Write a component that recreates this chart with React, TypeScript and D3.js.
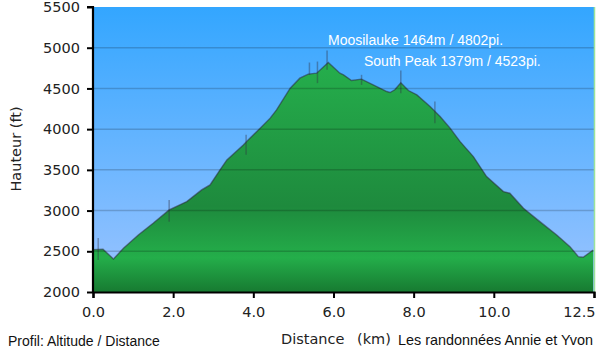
import React, { useRef, useEffect } from "react";
import * as d3 from "d3";

// profile: distance (km) / altitude (ft)
const distKm: number[] = [0.0, 0.25, 0.51, 0.76, 1.13, 1.5, 1.9, 2.34, 2.71, 2.92, 3.17, 3.34, 3.75, 3.87, 4.17, 4.42, 4.58, 4.92, 5.16, 5.37, 5.58, 5.87, 6.16, 6.25, 6.45, 6.7, 6.99, 7.33, 7.41, 7.53, 7.68, 7.87, 8.08, 8.41, 8.66, 8.91, 9.16, 9.49, 9.82, 10.24, 10.4, 10.74, 11.15, 11.57, 11.9, 12.11, 12.23, 12.48];
const altFt: number[] = [2520, 2525, 2405, 2537, 2700, 2844, 3008, 3110, 3254, 3315, 3500, 3622, 3806, 3868, 4012, 4135, 4237, 4503, 4626, 4675, 4687, 4818, 4687, 4667, 4597, 4614, 4544, 4462, 4450, 4483, 4570, 4474, 4421, 4278, 4155, 4012, 3847, 3663, 3417, 3233, 3213, 3029, 2864, 2700, 2557, 2434, 2426, 2516];

// GPS spikes: km, top ft, bottom ft
const spikeKm: number[] = [0.13, 1.9, 3.82, 5.4, 5.6, 5.84, 6.7, 7.68, 8.53];
const spikeTop: number[] = [2664, 3130, 3930, 4818, 4830, 4966, 4667, 4720, 4339];
const spikeBottom: number[] = [2393, 2864, 3684, 4667, 4565, 4728, 4544, 4442, 4073];

const yTicks: number[] = [2000, 2500, 3000, 3500, 4000, 4500, 5000, 5500];
const xTicks: number[] = [0, 2, 4, 6, 8, 10, 12.5];

const peaks = [
  { label: "Moosilauke 1464m / 4802pi.", x: 328, y: 45 },
  { label: "South Peak 1379m / 4523pi.", x: 364, y: 66 },
];

const App = () => {
  const canvas = useRef<SVGSVGElement>(null);

  const left = 93, right = 594, top = 7, bottom = 292;

  useEffect(() => {
    const svg = d3.select(canvas.current);
    svg.selectAll("*").remove();

    const xScale = d3.scaleLinear().domain([0, 12.5]).range([left, right]);
    const yScale = d3.scaleLinear().domain([2000, 5500]).range([bottom, top]);

    const defs = svg.append("defs");
    const sky = defs.append("linearGradient").attr("id", "sky")
      .attr("gradientUnits", "userSpaceOnUse")
      .attr("x1", 0).attr("x2", 0).attr("y1", top).attr("y2", bottom);
    sky.append("stop").attr("offset", "0%").attr("stop-color", "#33a6ff");
    sky.append("stop").attr("offset", "100%").attr("stop-color", "#9cc4ff");

    const grass = defs.append("linearGradient").attr("id", "grass")
      .attr("gradientUnits", "userSpaceOnUse")
      .attr("x1", 0).attr("x2", 0).attr("y1", top).attr("y2", bottom);
    grass.append("stop").attr("offset", "0.2").attr("stop-color", "#25ae4c");
    grass.append("stop").attr("offset", "0.7").attr("stop-color", "#1e8a3d");
    grass.append("stop").attr("offset", "0.88").attr("stop-color", "#24ae4a");
    grass.append("stop").attr("offset", "1").attr("stop-color", "#177a31");

    svg.append("rect")
      .attr("x", left).attr("y", top)
      .attr("width", right - left).attr("height", bottom - top)
      .attr("fill", "url(#sky)");

    const pts: [number, number][] = distKm.map((d, i) => [d, altFt[i]]);

    const area = d3.area<[number, number]>()
      .x(d => xScale(d[0]))
      .y0(bottom)
      .y1(d => yScale(d[1]));
    const line = d3.line<[number, number]>()
      .x(d => xScale(d[0]))
      .y(d => yScale(d[1]));

    svg.append("path").datum(pts).attr("d", area).attr("fill", "url(#grass)");

    // spikes
    svg.selectAll(".spike").data(spikeKm).enter().append("line")
      .attr("x1", d => xScale(d)).attr("x2", d => xScale(d))
      .attr("y1", (d, i) => yScale(spikeTop[i]))
      .attr("y2", (d, i) => yScale(spikeBottom[i]))
      .attr("stroke", "#334")
      .attr("stroke-opacity", 0.4)
      .attr("stroke-width", 1.5);

    svg.append("path").datum(pts).attr("d", line)
      .attr("fill", "none")
      .attr("stroke", "#2a2a3a")
      .attr("stroke-opacity", 0.55)
      .attr("stroke-width", 1.4);

    // gridlines
    svg.selectAll(".grid").data(yTicks.slice(1, -1)).enter().append("line")
      .attr("x1", left).attr("x2", right)
      .attr("y1", d => yScale(d)).attr("y2", d => yScale(d))
      .attr("stroke", "#000")
      .attr("stroke-opacity", 0.18)
      .attr("stroke-width", 1.5);

    // right border
    svg.append("line")
      .attr("x1", right + 0.5).attr("x2", right + 0.5)
      .attr("y1", top).attr("y2", bottom)
      .attr("stroke", "#9be39b").attr("stroke-width", 1.5);

    // axes
    const yAxis = d3.axisLeft(yScale).tickValues(yTicks).tickSize(6).tickPadding(7)
      .tickFormat(d3.format("d"));
    const gy = svg.append("g").attr("transform", `translate(${left},0)`).call(yAxis);
    const xAxis = d3.axisBottom(xScale).tickValues(xTicks).tickSize(6).tickPadding(9)
      .tickFormat(d3.format(".1f"));
    const gx = svg.append("g").attr("transform", `translate(0,${bottom})`).call(xAxis);

    [gx, gy].forEach(g => {
      g.select(".domain").attr("stroke", "#000").attr("stroke-width", 2.2);
      g.selectAll(".tick line").attr("stroke", "#000").attr("stroke-width", 2);
      g.selectAll(".tick text")
        .attr("font-family", "DejaVu Sans")
        .attr("font-size", 14.5)
        .attr("fill", "#222");
    });
    gy.select(".domain").attr("d", `M-6,${top}H0V${bottom}`);
    gx.selectAll(".tick text").filter((d: any) => d === 12.5)
      .attr("text-anchor", "end").attr("dx", 1);

    // annotations
    svg.selectAll(".peak").data(peaks).enter().append("text")
      .attr("x", d => d.x).attr("y", d => d.y)
      .attr("font-family", "Liberation Sans, Arial")
      .attr("font-size", 14)
      .attr("fill", "#fff")
      .text(d => d.label);

    svg.append("text")
      .attr("transform", "translate(21,149) rotate(-90)")
      .attr("text-anchor", "middle")
      .attr("font-family", "DejaVu Sans")
      .attr("font-size", 14.5)
      .attr("fill", "#222")
      .text("Hauteur (ft)");

    svg.append("text")
      .attr("x", 281).attr("y", 344)
      .attr("font-family", "DejaVu Sans")
      .attr("font-size", 14.5)
      .attr("fill", "#222")
      .text("Distance");

    svg.append("text")
      .attr("x", 357).attr("y", 344)
      .attr("font-family", "DejaVu Sans")
      .attr("font-size", 14.5)
      .attr("fill", "#222")
      .text("(km)");

    svg.append("text")
      .attr("x", 593).attr("y", 345)
      .attr("text-anchor", "end")
      .attr("font-family", "Liberation Sans, Arial")
      .attr("font-size", 14.4)
      .attr("fill", "#111")
      .text("Les randonnées Annie et Yvon");

    svg.append("text")
      .attr("x", 8).attr("y", 346)
      .attr("font-family", "Liberation Sans, Arial")
      .attr("font-size", 14)
      .attr("fill", "#111")
      .text("Profil: Altitude / Distance");
  });

  return (
    <svg ref={canvas} width={600} height={354}
      style={{ position: "absolute", left: 0, top: 0, background: "#fff" }} />
  );
};

export default App;
